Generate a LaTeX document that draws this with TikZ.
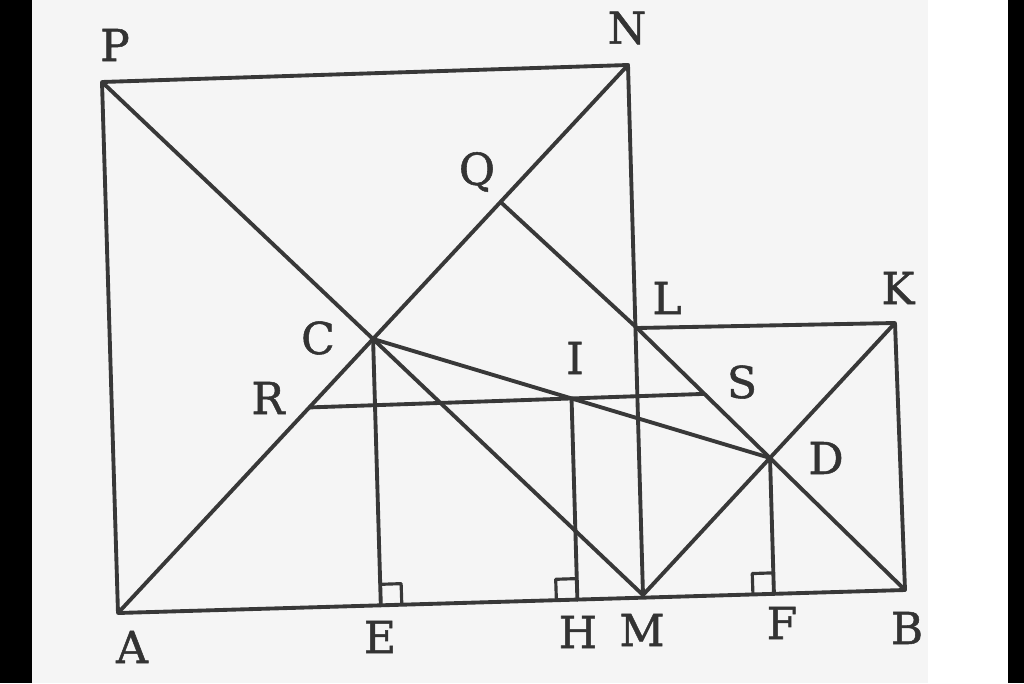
\documentclass[tikz,border=0pt]{standalone}
\usepackage{fontspec}
\setmainfont{DejaVu Serif}
\newfontfamily\ptfont[FakeBold=1.2]{DejaVu Serif}
\usetikzlibrary{calc}

\begin{document}
\begin{tikzpicture}[
  seg/.style={draw=black!78, line width=1.1pt, line join=round, line cap=round},
  lbl/.style={text=black!80, inner sep=0pt, font=\ptfont\fontsize{12.5}{14}\selectfont}
]
  \useasboundingbox (0,0) rectangle (10.24,6.83);
  \fill[white] (0,0) rectangle (10.24,6.83);
  \fill[black!4] (0.32,0) rectangle (9.28,6.83);
  \fill[black] (0,0) rectangle (0.32,6.83);
  \fill[black] (10.08,0) rectangle (10.24,6.83);

  % corners of the two squares
  \coordinate (A) at (1.18,0.70);
  \coordinate (M) at (6.43,0.88);
  \coordinate (B) at (9.05,0.93);
  \coordinate (P) at (1.02,6.01);
  \coordinate (N) at (6.28,6.18);
  \coordinate (L) at (6.37,3.55);
  \coordinate (K) at (8.95,3.60);

  % constructed points
  \coordinate (C) at (intersection of A--N and P--M);
  \coordinate (Q) at ($(C)!0.5!(N)$);
  \coordinate (D) at (intersection of M--K and L--B);
  \coordinate (I) at ($(C)!0.5!(D)$);
  \coordinate (Ix) at ($(I)+(M)-(A)$);
  \coordinate (R) at (intersection of A--N and I--Ix);
  \coordinate (S) at (intersection of L--B and I--Ix);
  \coordinate (E) at ($(A)!(C)!(B)$);
  \coordinate (H) at ($(A)!(I)!(B)$);
  \coordinate (F) at ($(A)!(D)!(B)$);

  \draw[seg] (B) -- (A) -- (P) -- (N) -- (M);
  \draw[seg] (L) -- (K) -- (B);
  \draw[seg] (A) -- (N);
  \draw[seg] (P) -- (M);
  \draw[seg] (M) -- (K);
  \draw[seg] (Q) -- (L) -- (B);
  \draw[seg] (C) -- (D);
  \draw[seg] (R) -- (S);
  \draw[seg] (C) -- (E);
  \draw[seg] (I) -- (H);
  \draw[seg] (D) -- (F);

  \begin{scope}[shift={(E)},rotate=1.9]
    \draw[seg, line width=0.9pt] (0.21,0) -- (0.21,0.21) -- (0,0.21);
  \end{scope}
  \begin{scope}[shift={(H)},rotate=1.9]
    \draw[seg, line width=0.9pt] (-0.21,0) -- (-0.21,0.21) -- (0,0.21);
  \end{scope}
  \begin{scope}[shift={(F)},rotate=1.9]
    \draw[seg, line width=0.9pt] (-0.21,0) -- (-0.21,0.21) -- (0,0.21);
  \end{scope}

  \node[lbl] (tP) at (1.15,6.38) {P};
  \node[lbl] (tN) at (6.27,6.55) {N};
  \node[lbl] (tQ) at (4.77,5.11) {Q};
  \node[lbl] (tL) at (6.67,3.85) {L};
  \node[lbl] (tK) at (8.98,3.95) {K};
  \node[lbl] (tC) at (3.18,3.45) {C};
  \node[lbl] (tR) at (2.68,2.85) {R};
  \node[lbl] (tI) at (5.75,3.25) {I};
  \node[lbl] (tS) at (7.42,3.01) {S};
  \node[lbl] (tD) at (8.26,2.25) {D};
  \node[lbl] (tA) at (1.32,0.36) {A};
  \node[lbl] (tE) at (3.80,0.46) {E};
  \node[lbl] (tH) at (5.78,0.51) {H};
  \node[lbl] (tM) at (6.42,0.53) {M};
  \node[lbl] (tF) at (7.82,0.60) {F};
  \node[lbl] (tB) at (9.07,0.55) {B};
\end{tikzpicture}
\end{document}
